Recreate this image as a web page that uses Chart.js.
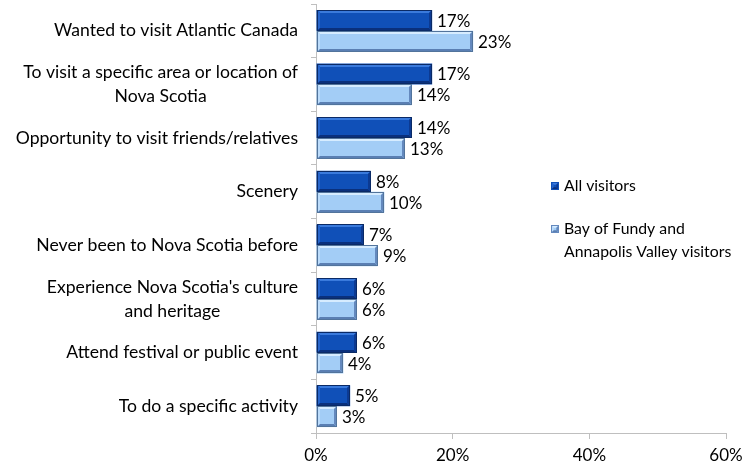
<!DOCTYPE html>
<html>
<head>
<meta charset="utf-8">
<script src="https://cdn.jsdelivr.net/npm/chart.js@4.4.1/dist/chart.umd.min.js"></script>
<style>
  html, body { margin: 0; padding: 0; background: #fff; }
  #wrap { width: 743px; height: 469px; position: relative; }
</style>
</head>
<body>
<div id="wrap"><canvas id="grafica"></canvas></div>
<script>
var categorias = [
  ["Wanted to visit Atlantic Canada"],
  ["To visit a specific area or location of", "Nova Scotia"],
  ["Opportunity to visit friends/relatives"],
  ["Scenery"],
  ["Never been to Nova Scotia before"],
  ["Experience Nova Scotia's culture", "and heritage"],
  ["Attend festival or public event"],
  ["To do a specific activity"]
];
var todos = [17, 17, 14, 8, 7, 6, 6, 5];
var bahiaFundy = [23, 14, 13, 10, 9, 6, 4, 3];
var series = ["All visitors", "Bay of Fundy and Annapolis Valley visitors"];
var ticksX = [0, 20, 40, 60];

var fuente = "Lato, 'Open Sans', sans-serif";

// colores del bisel: relleno, arriba, izquierda, abajo, derecha, borde
var bisel = [
  { fill: '#1050b8', top: '#3a7adc', left: '#2766cc', bottom: '#0a307c', right: '#0c3a92', line: '#0a2a66' },
  { fill: '#a3cdf6', top: '#d6ecff', left: '#bcdcfb', bottom: '#5a7fb3', right: '#6489be', line: '#52749c' }
];

function dibujaBisel(ctx, x0, y0, x1, y1, c) {
  var b = Math.min(3, (x1 - x0) / 3, (y1 - y0) / 3);
  ctx.save();
  ctx.fillStyle = c.fill;
  ctx.fillRect(x0, y0, x1 - x0, y1 - y0);
  var caras = [
    [c.top, [[x0, y0], [x1, y0], [x1 - b, y0 + b], [x0 + b, y0 + b]]],
    [c.left, [[x0, y0], [x0 + b, y0 + b], [x0 + b, y1 - b], [x0, y1]]],
    [c.bottom, [[x0, y1], [x0 + b, y1 - b], [x1 - b, y1 - b], [x1, y1]]],
    [c.right, [[x1, y0], [x1, y1], [x1 - b, y1 - b], [x1 - b, y0 + b]]]
  ];
  caras.forEach(function (cara) {
    ctx.fillStyle = cara[0];
    ctx.beginPath();
    cara[1].forEach(function (p, i) { if (i == 0) ctx.moveTo(p[0], p[1]); else ctx.lineTo(p[0], p[1]); });
    ctx.closePath();
    ctx.fill();
  });
  ctx.strokeStyle = c.line;
  ctx.lineWidth = 1;
  ctx.strokeRect(x0 + 0.5, y0 + 0.5, x1 - x0 - 1, y1 - y0 - 1);
  ctx.restore();
}

var pluginBarras = {
  id: 'barrasBisel',
  afterDatasetsDraw: function (chart) {
    var ctx = chart.ctx;
    chart.data.datasets.forEach(function (ds, d) {
      var meta = chart.getDatasetMeta(d);
      meta.data.forEach(function (bar, i) {
        var h = bar.height;
        var x0 = Math.round(bar.base), x1 = Math.round(bar.x);
        var y0 = Math.round(bar.y - h / 2), y1 = Math.round(bar.y + h / 2);
        dibujaBisel(ctx, x0, y0, x1, y1, bisel[d]);
        // etiqueta del valor
        ctx.save();
        ctx.fillStyle = '#000';
        ctx.font = '17px ' + fuente;
        ctx.textAlign = 'left';
        ctx.textBaseline = 'middle';
        ctx.fillText(ds.data[i] + '%', x1 + 5, bar.y + 1);
        ctx.restore();
      });
    });
  },
  afterDraw: function (chart) {
    var ctx = chart.ctx;
    var escalaY = chart.scales.y;
    // etiquetas de categoria: bloque alineado a la derecha, lineas centradas
    ctx.save();
    ctx.fillStyle = '#000';
    ctx.font = '17.6px ' + fuente;
    ctx.textAlign = 'center';
    ctx.textBaseline = 'middle';
    var derecha = 298, alto = 24;
    categorias.forEach(function (lineas, i) {
      var y = escalaY.getPixelForValue(i);
      var maxW = 0;
      lineas.forEach(function (t) { maxW = Math.max(maxW, ctx.measureText(t).width); });
      var cx = derecha - maxW / 2;
      var y0 = y - (lineas.length - 1) * alto / 2;
      lineas.forEach(function (t, k) { ctx.fillText(t, cx, y0 + k * alto); });
    });
    ctx.restore();

    // leyenda
    ctx.save();
    ctx.font = '15.8px ' + fuente;
    ctx.fillStyle = '#000';
    ctx.textBaseline = 'middle';
    ctx.textAlign = 'left';
    var lx = 551;
    dibujaBisel(ctx, lx, 182, lx + 8, 190, { fill: bisel[0].fill, top: bisel[0].top, left: bisel[0].left, bottom: bisel[0].bottom, right: bisel[0].right, line: bisel[0].fill });
    ctx.fillText(series[0], lx + 13, 186);
    dibujaBisel(ctx, lx, 225, lx + 8, 233, { fill: bisel[1].fill, top: bisel[1].top, left: bisel[1].left, bottom: bisel[1].bottom, right: bisel[1].right, line: bisel[1].right });
    ctx.fillText("Bay of Fundy and", lx + 13, 229);
    ctx.fillText("Annapolis Valley visitors", lx + 13, 252);
    ctx.restore();
  }
};

var ctx = document.getElementById('grafica').getContext('2d');
new Chart(ctx, {
  type: 'bar',
  data: {
    labels: categorias,
    datasets: [
      { label: series[0], data: todos, backgroundColor: bisel[0].fill, borderWidth: 0 },
      { label: series[1], data: bahiaFundy, backgroundColor: bisel[1].fill, borderWidth: 0 }
    ]
  },
  options: {
    indexAxis: 'y',
    responsive: true,
    maintainAspectRatio: false,
    animation: false,
    categoryPercentage: 0.78,
    barPercentage: 1,
    layout: { padding: { top: 4, right: 17, left: 0, bottom: 0 } },
    plugins: {
      legend: { display: false },
      tooltip: { enabled: false }
    },
    scales: {
      x: {
        min: 0,
        max: 60,
        afterBuildTicks: function (scale) {
          scale.ticks = ticksX.map(function (v) { return { value: v }; });
        },
        ticks: {
          color: '#000',
          font: { family: fuente, size: 17 },
          padding: 6,
          maxRotation: 0,
          callback: function (v) { return v + '%'; }
        },
        grid: { drawOnChartArea: false, tickLength: 6, color: '#bfbfbf' },
        border: { color: '#bfbfbf' },
        afterFit: function (scale) {
          scale.height = 36;
          scale.paddingLeft = 0;
          scale.paddingRight = 0;
        }
      },
      y: {
        ticks: { display: false },
        grid: { drawOnChartArea: false, tickLength: 5, color: '#bfbfbf', offset: true },
        border: { color: '#bfbfbf' },
        afterFit: function (scale) { scale.width = 316; }
      }
    }
  },
  plugins: [pluginBarras]
});
</script>
</body>
</html>
